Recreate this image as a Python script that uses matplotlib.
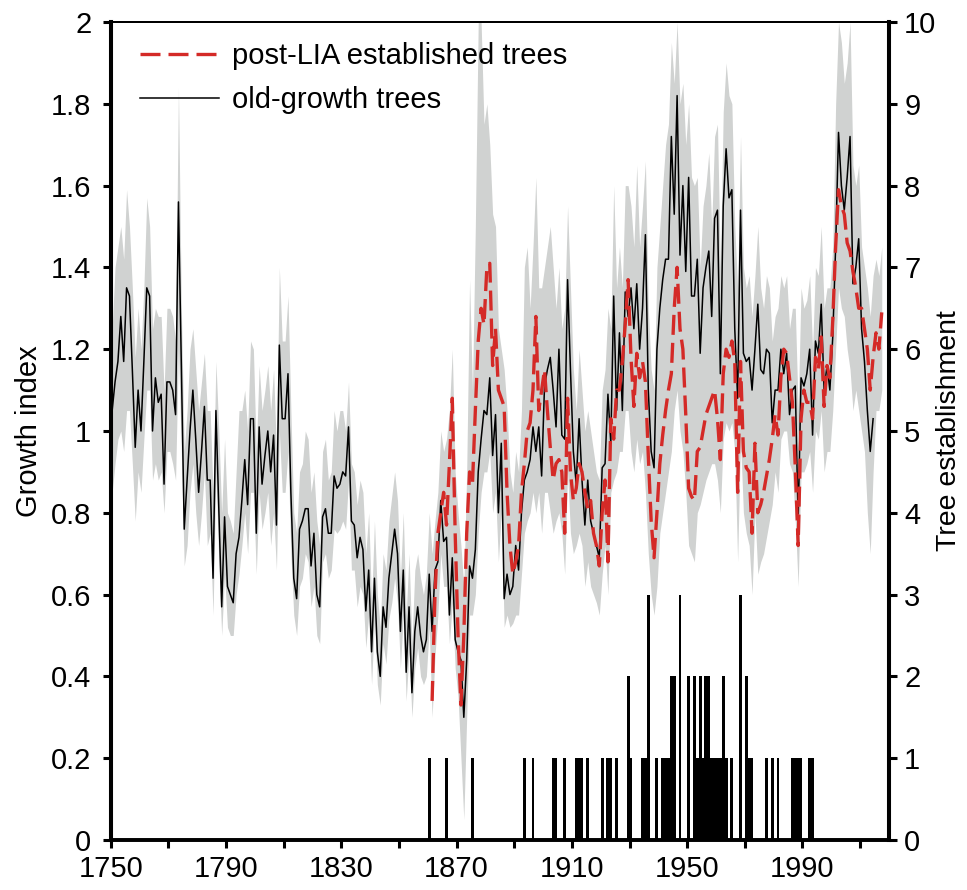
import numpy as np
import matplotlib
matplotlib.use('Agg')
from matplotlib import pyplot as plt
from matplotlib.lines import Line2D

plt.rcParams['font.family'] = ['Liberation Sans', 'DejaVu Sans']

# old-growth trees growth index, one value per year from 1750
old_start = 1750
old_growth = [
    1.05, 1.12, 1.17, 1.28, 1.17, 1.35, 1.33, 1.15, 0.96, 1.10,
    1.00, 1.17, 1.35, 1.33, 1.00, 1.13, 1.07, 1.09, 0.87, 1.12,
    1.12, 1.10, 1.04, 1.56, 1.16, 0.76, 0.88, 1.00, 1.10, 0.98,
    0.85, 0.95, 1.06, 0.88, 0.88, 0.64, 1.05, 0.81, 0.57, 0.79,
    0.62, 0.60, 0.58, 0.70, 0.74, 0.83, 0.93, 0.82, 1.03, 1.03,
    0.75, 1.01, 0.87, 0.94, 1.00, 0.90, 0.99, 0.77, 1.21, 1.03,
    1.03, 1.14, 0.85, 0.64, 0.59, 0.76, 0.78, 0.81, 0.81, 0.67,
    0.75, 0.60, 0.57, 0.79, 0.81, 0.75, 0.75, 0.89, 0.86, 0.87,
    0.90, 0.89, 1.01, 0.78, 0.77, 0.69, 0.74, 0.71, 0.56, 0.66,
    0.46, 0.64, 0.46, 0.40, 0.57, 0.52, 0.64, 0.70, 0.76, 0.70,
    0.51, 0.66, 0.41, 0.57, 0.36, 0.51, 0.57, 0.50, 0.46, 0.49,
    0.65, 0.51, 0.66, 0.68, 0.83, 0.73, 0.74, 0.55, 0.69, 0.49,
    0.46, 0.44, 0.30, 0.44, 0.67, 0.64, 0.71, 0.90, 0.98, 1.05,
    1.04, 1.13, 0.94, 1.04, 0.80, 0.97, 0.59, 0.65, 0.60, 0.62,
    0.72, 0.66, 0.80, 0.88, 0.90, 0.93, 1.01, 0.95, 1.01, 0.89,
    1.11, 1.15, 1.18, 1.10, 1.01, 1.20, 0.99, 0.98, 1.37, 1.15,
    0.95, 0.87, 1.03, 0.88, 0.77, 0.88, 0.78, 0.75, 0.72, 0.69,
    0.91, 0.92, 1.09, 0.97, 1.33, 1.05, 1.24, 1.05, 1.34, 1.28,
    1.35, 1.25, 1.36, 1.20, 1.30, 1.48, 1.10, 0.95, 0.91, 1.20,
    1.30, 1.37, 1.42, 1.42, 1.72, 1.53, 1.82, 1.43, 1.60, 1.39,
    1.62, 1.33, 1.33, 1.42, 1.19, 1.35, 1.40, 1.44, 1.28, 1.52,
    1.54, 1.14, 1.55, 1.69, 1.57, 1.59, 1.25, 1.08, 1.54, 1.19,
    1.17, 1.18, 1.10, 1.20, 1.31, 1.15, 1.14, 1.20, 1.19, 1.02,
    1.10, 1.10, 1.20, 1.14, 1.19, 1.04, 1.10, 1.11, 0.78, 1.13,
    1.11, 1.14, 1.20, 0.99, 1.22, 1.19, 1.31, 1.10, 1.16, 1.10,
    1.23, 1.45, 1.73, 1.60, 1.54, 1.62, 1.72, 1.36, 1.40, 1.47,
    1.25, 1.17, 1.05, 0.95, 1.03,
]

# post-LIA established trees, from 1861
lia_start = 1861
post_lia = [
    0.34, 0.60, 0.75, 0.80, 0.85, 0.77, 0.92, 1.08, 0.75,
    0.50, 0.33, 0.50, 0.75, 0.90, 0.87, 1.05, 1.22, 1.30, 1.26,
    1.40, 1.41, 1.16, 1.25, 1.10, 1.08, 1.06, 0.85, 0.72, 0.65,
    0.68, 0.72, 0.85, 0.92, 1.00, 1.02, 1.10, 1.28, 1.05, 1.10,
    1.15, 1.05, 0.96, 0.88, 0.92, 0.93, 0.90, 0.75, 1.08, 0.90,
    0.83, 0.86, 0.92, 0.90, 0.85, 0.81, 0.83, 0.75, 0.72, 0.67,
    0.80, 0.88, 0.68, 1.03, 0.98, 1.10, 1.10, 1.17, 1.26, 1.37,
    1.18, 1.06, 1.19, 1.13, 1.17, 1.12, 0.94, 0.78, 0.69, 0.80,
    0.92, 0.99, 1.05, 1.10, 1.14, 1.30, 1.40, 1.25, 1.20, 1.04,
    0.86, 0.84, 0.83, 0.95, 0.96, 1.00, 1.04, 1.06, 1.08, 1.10,
    1.03, 0.93, 1.14, 1.20, 1.18, 1.22, 1.17, 0.85, 1.17, 0.95,
    0.91, 0.90, 0.75, 0.97, 0.80, 0.82, 0.85, 0.89, 0.93, 0.98,
    1.04, 0.99, 1.13, 1.20, 1.19, 1.13, 1.07, 0.91, 0.72, 1.03,
    1.10, 1.07, 1.07, 1.03, 1.18, 1.15, 1.23, 1.06, 1.16, 1.13,
    1.27, 1.45, 1.59, 1.55, 1.53, 1.46, 1.44, 1.39, 1.35, 1.30,
    1.30, 1.25, 1.20, 1.10, 1.18, 1.24, 1.20, 1.29,
]

# grey envelope, 1750-2017
band_start = 1750
band_hi = [
    1.25, 1.40, 1.45, 1.50, 1.42, 1.59, 1.50, 1.35, 1.18, 1.30,
    1.20, 1.35, 1.57, 1.50, 1.25, 1.30, 1.28, 1.28, 1.10, 1.30,
    1.30, 1.28, 1.22, 1.84, 1.30, 0.95, 1.05, 1.20, 1.25, 1.15,
    1.05, 1.12, 1.19, 1.05, 1.05, 0.85, 1.17, 1.00, 0.80, 0.98,
    0.80, 0.78, 0.75, 0.90, 1.05, 1.05, 1.10, 1.00, 1.22, 1.20,
    0.95, 1.16, 1.05, 1.10, 1.16, 1.05, 1.15, 0.95, 1.40, 1.22,
    1.22, 1.33, 1.05, 0.80, 0.75, 0.90, 0.92, 1.00, 0.98, 0.85,
    0.90, 0.78, 0.72, 0.95, 0.98, 0.88, 0.90, 1.05, 1.00, 1.05,
    1.05, 1.00, 1.12, 0.92, 0.90, 0.82, 0.88, 0.85, 0.70, 0.80,
    0.58, 0.78, 0.60, 0.52, 0.70, 0.66, 0.78, 0.84, 0.90, 0.83,
    0.64, 0.80, 0.55, 0.70, 0.48, 0.66, 0.70, 0.64, 0.60, 0.65,
    0.80, 0.70, 0.78, 0.85, 1.00, 0.95, 0.98, 1.05, 1.20, 0.90,
    0.80, 0.72, 0.62, 0.90, 1.37, 1.10, 1.50, 2.00, 2.00, 1.75,
    1.80, 1.70, 1.53, 1.50, 1.25, 1.20, 1.15, 1.05, 0.90, 0.85,
    0.95, 0.90, 1.05, 1.40, 1.45, 1.30, 1.45, 1.62, 1.35, 1.35,
    1.40, 1.45, 1.50, 1.40, 1.30, 1.40, 1.25, 1.30, 1.55, 1.35,
    1.15, 1.05, 1.20, 1.10, 1.00, 1.05, 1.00, 0.95, 0.90, 0.88,
    1.10, 1.15, 1.30, 1.25, 1.60, 1.35, 1.45, 1.35, 1.60, 1.60,
    1.55, 1.45, 1.65, 1.45, 1.55, 1.66, 1.30, 1.15, 1.10, 1.40,
    1.50, 1.60, 1.70, 1.75, 1.95, 1.85, 2.00, 1.80, 1.85, 1.70,
    1.80, 1.62, 1.60, 1.62, 1.40, 1.55, 1.60, 1.68, 1.50, 1.72,
    1.75, 1.40, 1.78, 1.90, 1.82, 1.80, 1.50, 1.35, 1.72, 1.40,
    1.35, 1.38, 1.28, 1.38, 1.50, 1.35, 1.30, 1.38, 1.35, 1.22,
    1.28, 1.30, 1.38, 1.35, 1.38, 1.25, 1.30, 1.30, 1.05, 1.35,
    1.30, 1.32, 1.38, 1.20, 1.40, 1.38, 1.50, 1.30, 1.35, 1.35,
    1.45, 1.80, 2.00, 1.95, 1.85, 1.90, 2.00, 1.65, 1.60, 1.65,
    1.45, 1.40, 1.35, 1.28, 1.38, 1.42, 1.38, 1.45,
]
band_lo = [
    0.85, 0.92, 0.98, 1.00, 0.95, 1.05, 1.05, 0.92, 0.78, 0.90,
    0.85, 0.98, 1.10, 1.10, 0.88, 0.92, 0.88, 0.90, 0.80, 0.95,
    0.95, 0.92, 0.88, 1.20, 0.95, 0.67, 0.72, 0.85, 0.92, 0.80,
    0.72, 0.80, 0.90, 0.72, 0.75, 0.55, 0.90, 0.68, 0.50, 0.65,
    0.52, 0.50, 0.50, 0.60, 0.65, 0.72, 0.80, 0.70, 0.85, 0.85,
    0.65, 0.85, 0.76, 0.80, 0.85, 0.72, 0.80, 0.66, 1.00, 0.85,
    0.85, 0.95, 0.70, 0.55, 0.50, 0.62, 0.64, 0.70, 0.68, 0.57,
    0.62, 0.50, 0.48, 0.68, 0.70, 0.64, 0.66, 0.76, 0.75, 0.76,
    0.78, 0.76, 0.88, 0.66, 0.66, 0.57, 0.62, 0.60, 0.47, 0.55,
    0.38, 0.54, 0.38, 0.33, 0.48, 0.43, 0.54, 0.58, 0.64, 0.58,
    0.42, 0.55, 0.34, 0.46, 0.30, 0.42, 0.47, 0.40, 0.38, 0.40,
    0.52, 0.30, 0.45, 0.55, 0.70, 0.62, 0.62, 0.48, 0.58, 0.42,
    0.35, 0.20, 0.05, 0.30, 0.55, 0.55, 0.60, 0.75, 0.85, 0.90,
    0.90, 0.95, 0.80, 0.85, 0.68, 0.80, 0.52, 0.55, 0.52, 0.53,
    0.55, 0.55, 0.65, 0.75, 0.78, 0.80, 0.85, 0.80, 0.85, 0.75,
    0.85, 0.85, 0.80, 0.75, 0.78, 0.80, 0.75, 0.65, 0.90, 0.75,
    0.70, 0.72, 0.75, 0.72, 0.62, 0.68, 0.62, 0.60, 0.58, 0.55,
    0.65, 0.72, 0.60, 0.85, 0.88, 0.90, 0.95, 0.95, 1.05, 1.05,
    0.95, 0.90, 0.98, 0.92, 0.95, 0.85, 0.70, 0.60, 0.55, 0.62,
    0.75, 0.80, 0.85, 0.90, 0.95, 1.05, 1.10, 1.00, 0.95, 0.85,
    0.72, 0.70, 0.68, 0.80, 0.82, 0.85, 0.88, 0.90, 0.92, 0.92,
    0.88, 0.80, 0.98, 1.02, 1.00, 1.02, 0.95, 0.68, 0.98, 0.80,
    0.75, 0.72, 0.60, 0.80, 0.65, 0.68, 0.70, 0.74, 0.78, 0.82,
    0.90, 0.85, 0.98, 1.00, 1.00, 0.92, 0.90, 0.78, 0.62, 0.90,
    0.90, 0.92, 0.95, 0.85, 1.00, 0.98, 1.05, 0.90, 0.95, 0.95,
    1.05, 1.20, 1.35, 1.30, 1.28, 1.20, 1.15, 1.05, 1.10, 1.05,
    1.00, 0.95, 0.80, 0.70, 0.90, 1.05, 1.05, 1.10,
]

# tree establishment (number of trees per year)
est_years = [1860, 1866, 1875, 1893, 1896, 1903, 1904, 1907, 1911, 1912,
             1913, 1915, 1920, 1922, 1923, 1925, 1929, 1930, 1934, 1935,
             1936, 1939, 1941, 1942, 1943, 1944, 1945, 1947, 1950, 1952,
             1953, 1954, 1955, 1956, 1957, 1958, 1959, 1960, 1961, 1962,
             1963, 1965, 1968, 1970, 1971, 1972, 1977, 1979, 1981, 1986,
             1987, 1988, 1989, 1992, 1993]
est_counts = [1, 1, 1, 1, 1, 1, 1, 1, 1, 1,
              1, 1, 1, 1, 1, 1, 2, 1, 1, 1,
              3, 1, 1, 1, 1, 2, 2, 3, 2, 2,
              1, 2, 1, 2, 2, 1, 1, 1, 1, 2,
              1, 1, 3, 2, 1, 1, 1, 1, 1, 1,
              1, 1, 1, 1, 1]

# values are annual, drawn in the middle of each year slot
old_x = old_start + np.arange(len(old_growth)) + 0.5
lia_x = lia_start + np.arange(len(post_lia)) + 0.5
band_x = band_start + np.arange(len(band_hi)) + 0.5
est_x = np.array(est_years) + 0.5

fig = plt.figure(figsize=(9.67, 8.9), dpi=100)
ax = fig.add_axes([0.1145, 0.0562, 0.8048, 0.9191])

ax.fill_between(band_x, band_lo, band_hi, color='#d0d2d1', linewidth=0, zorder=1)
ax.plot(old_x, old_growth, color='black', lw=1.1, zorder=3)
ax.plot(lia_x, post_lia, color='#d42a27', lw=2.4, ls=(0, (6, 2.4)), zorder=4)

ax.set_xlim(1750, 2020)
ax.set_ylim(0, 2)
ax.set_xticks(np.arange(1750, 2020, 20))
ax.set_xticklabels([str(y) if (y - 1750) % 40 == 0 else '' for y in range(1750, 2020, 20)])
yt = np.round(np.arange(0, 2.01, 0.2), 1)
ax.set_yticks(yt)
ax.set_yticklabels(['%g' % v for v in yt])
ax.set_ylabel('Growth index', fontsize=21, labelpad=6)

ax2 = ax.twinx()
ax2.bar(est_x, est_counts, width=1.0, color='black', linewidth=0, zorder=2)
ax2.set_ylim(0, 10)
ax2.set_yticks(range(0, 11))
ax2.set_ylabel('Tree establishment', fontsize=20.5, labelpad=0)

for a in (ax, ax2):
    a.tick_params(axis='both', direction='out', length=6, width=2.2,
                  labelsize=21)
    a.spines['left'].set_linewidth(2.9)
    a.spines['right'].set_linewidth(2.9)
    a.spines['bottom'].set_linewidth(2.6)
    a.spines['top'].set_linewidth(1.4)
ax.tick_params(axis='y', pad=8)
ax.tick_params(axis='x', pad=5)
ax2.tick_params(axis='y', pad=5)

handles = [Line2D([], [], color='#d42a27', lw=2.4, ls=(0, (6, 2.4))),
           Line2D([], [], color='black', lw=1.1)]
ax.legend(handles, ['post-LIA established trees', 'old-growth trees'],
          loc='upper left', bbox_to_anchor=(0.0376, 0.9756), frameon=False,
          fontsize=21, handlelength=2.7, handletextpad=0.45, labelspacing=0.55,
          borderpad=0, borderaxespad=0)

fig.savefig('out.png', dpi=100)
